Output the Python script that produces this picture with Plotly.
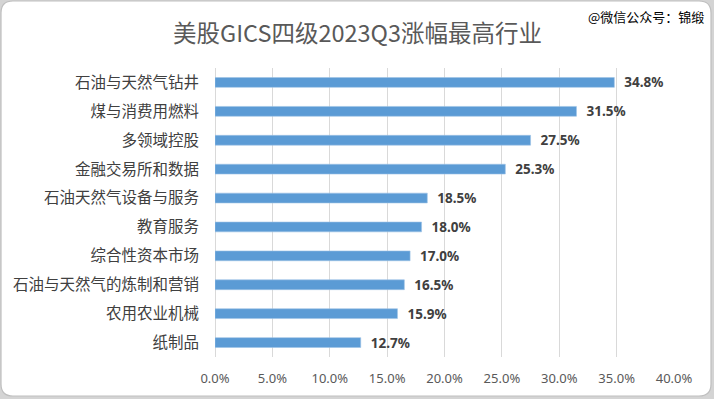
import plotly.graph_objects as go

categories = ["石油与天然气钻井", "煤与消费用燃料", "多领域控股", "金融交易所和数据",
              "石油天然气设备与服务", "教育服务", "综合性资本市场",
              "石油与天然气的炼制和营销", "农用农业机械", "纸制品"]
values = [0.348, 0.315, 0.275, 0.253, 0.185, 0.180, 0.170, 0.165, 0.159, 0.127]
tick_vals = [0, 0.05, 0.10, 0.15, 0.20, 0.25, 0.30, 0.35, 0.40]
title_text = "美股GICS四级2023Q3涨幅最高行业"
watermark = "@微信公众号：锦缎"

W, H = 714, 399
L, R, T, B = 215, 40, 68, 42
pw, ph = W - L - R, H - T - B

def px_x(p):
    return (p - L) / pw

def px_y(p):
    return (H - B - p) / ph

fig = go.Figure()
fig.add_trace(go.Bar(
    x=values, y=categories, orientation="h",
    width=0.34,
    marker=dict(color="#5B9BD5", line=dict(color="#9DC3E6", width=0.6)),
    texttemplate="  %{x:.1%}", textposition="outside", cliponaxis=False,
    textfont=dict(family="Noto Sans, Liberation Sans, sans-serif", size=13.5, color="#404040", weight="bold"),
    hoverinfo="skip",
))

# rounded frame
x0, x1, y0, y1, r = px_x(1), px_x(711), px_y(1), px_y(396), 12
rx, ry = r / pw, r / ph
path = (f"M {x0+rx},{y0} L {x1-rx},{y0} Q {x1},{y0} {x1},{y0-ry} "
        f"L {x1},{y1+ry} Q {x1},{y1} {x1-rx},{y1} L {x0+rx},{y1} "
        f"Q {x0},{y1} {x0},{y1+ry} L {x0},{y0-ry} Q {x0},{y0} {x0+rx},{y0} Z")
fig.add_shape(type="path", path=path, xref="paper", yref="paper",
              fillcolor="white", line=dict(color="#BFBFBF", width=1.2), layer="below")

fig.add_annotation(text=title_text, xref="paper", yref="paper",
                   x=px_x(357), y=px_y(32), xanchor="center", yanchor="middle",
                   showarrow=False,
                   font=dict(family="Noto Sans CJK SC", size=23.5, color="#595959"))
fig.add_annotation(text=watermark, xref="paper", yref="paper",
                   x=px_x(706), y=px_y(17), xanchor="right", yanchor="middle",
                   showarrow=False,
                   font=dict(family="Noto Sans CJK SC", size=13, color="#000000"))

fig.update_layout(
    width=W, height=H,
    margin=dict(l=L, r=R, t=T, b=B),
    paper_bgcolor="#D4D4D4", plot_bgcolor="rgba(0,0,0,0)",
    showlegend=False,
    bargap=0.66,
    uniformtext=dict(minsize=13.5, mode="show"),
    xaxis=dict(range=[0, 0.40], tickvals=tick_vals, tickformat=".1%",
               showgrid=True, gridcolor="#D9D9D9", gridwidth=1,
               zeroline=True, zerolinecolor="#D9D9D9", zerolinewidth=1,
               showline=False, ticks="outside", ticklen=9, tickcolor="rgba(0,0,0,0)",
               tickfont=dict(family="Noto Sans, sans-serif", size=13, color="#595959"),
               fixedrange=True),
    yaxis=dict(autorange="reversed", showgrid=False, showline=False,
               ticks="outside", ticklen=12, tickcolor="rgba(0,0,0,0)",
               tickfont=dict(family="Noto Sans CJK SC", size=15.5, color="#404040"),
               fixedrange=True),
)

fig.write_html("out.html", config={"displayModeBar": False},
               post_script="document.body.style.margin='0';")
